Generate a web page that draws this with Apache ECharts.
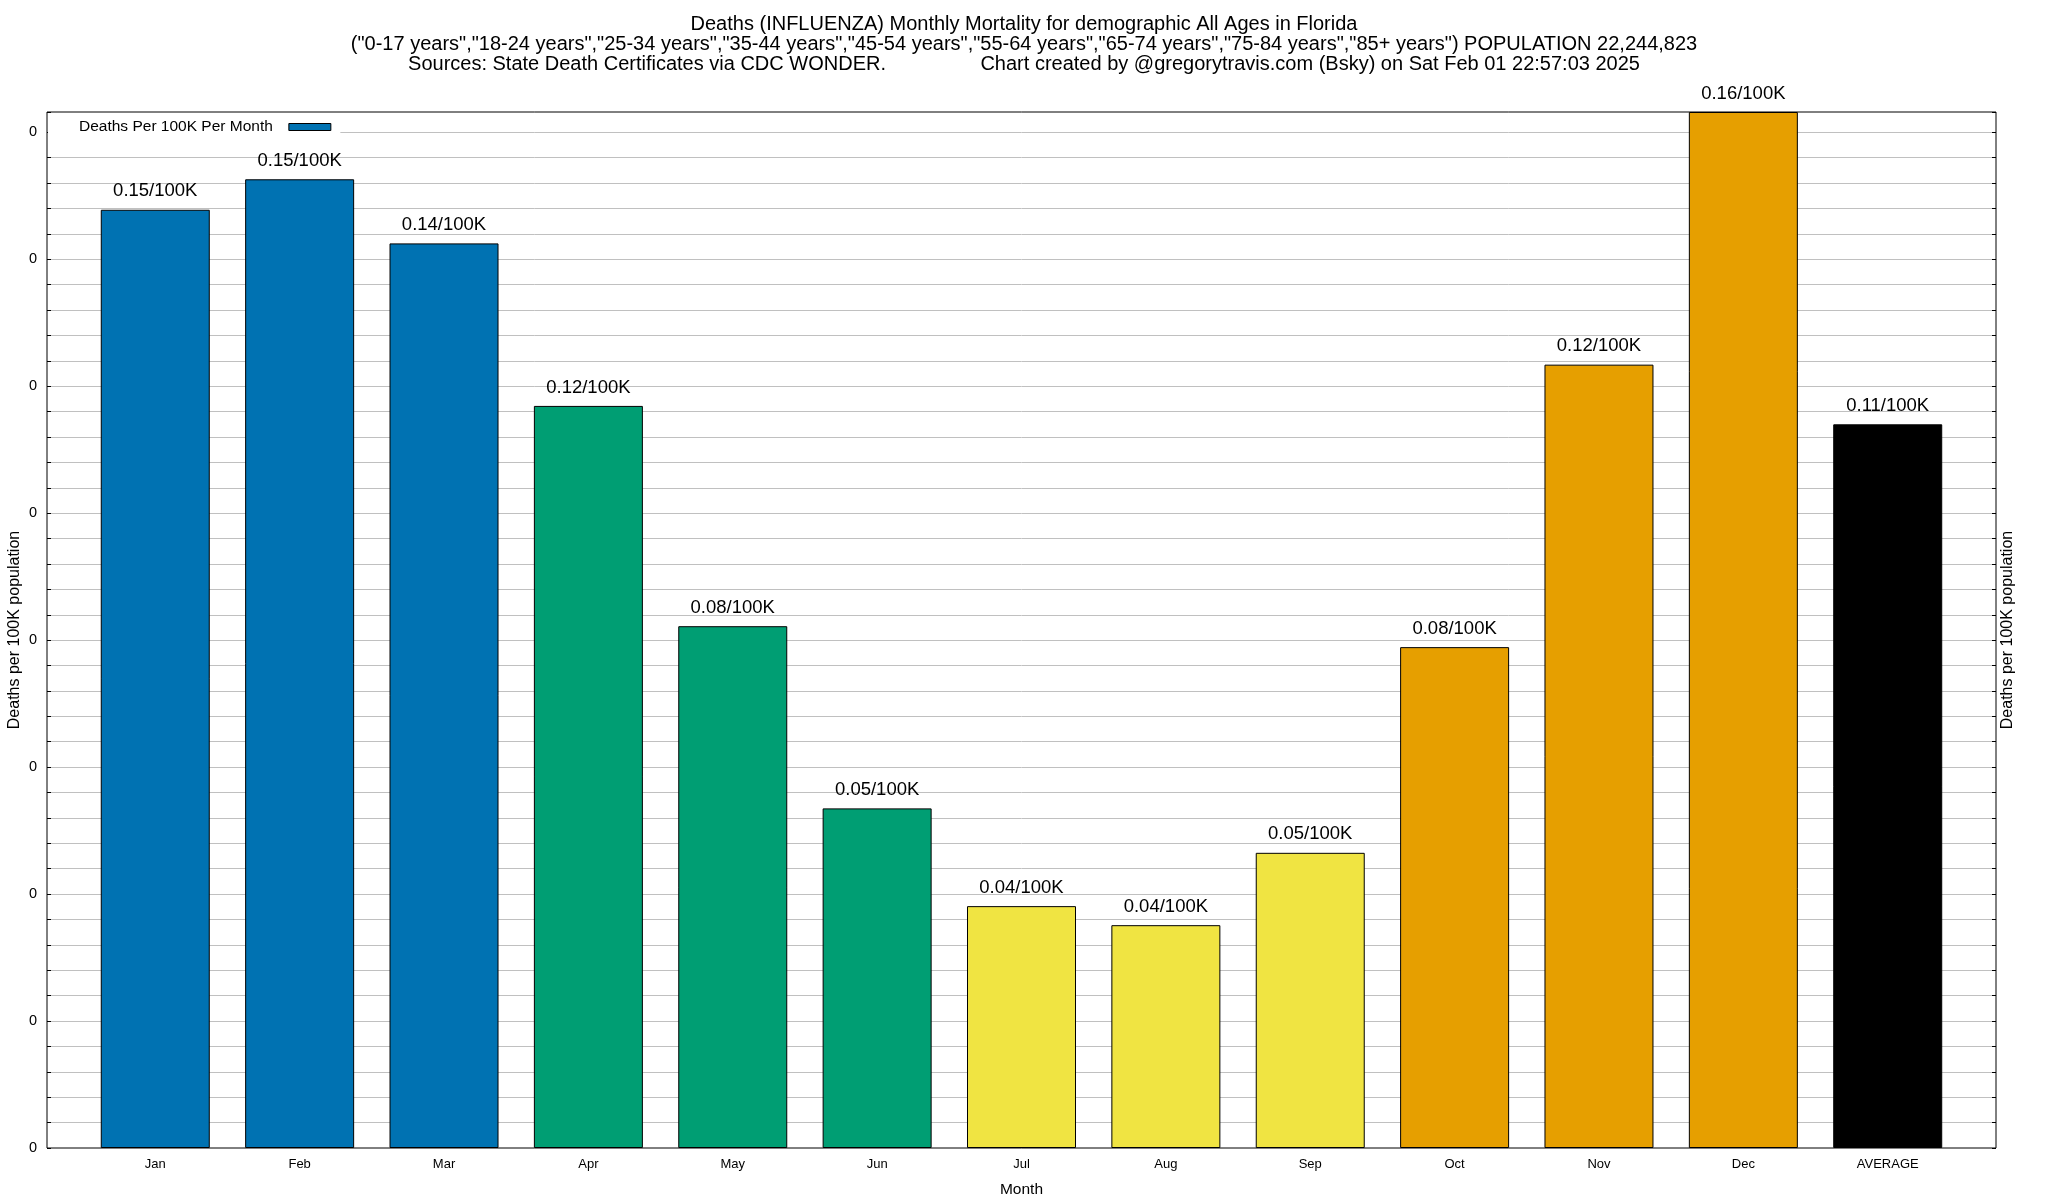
<!DOCTYPE html>
<html>
<head>
<meta charset="utf-8">
<script src="https://cdn.jsdelivr.net/npm/echarts@6/dist/echarts.min.js"></script>
<style>html,body{margin:0;padding:0;background:#fff}#c{width:2048px;height:1200px}</style>
</head>
<body>
<div id="c"></div>
<script>
const categories = ['Jan','Feb','Mar','Apr','May','Jun','Jul','Aug','Sep','Oct','Nov','Dec','AVERAGE'];
const deathsPer100K = [0.1478, 0.1526, 0.1425, 0.1169, 0.0822, 0.0535, 0.0381, 0.0351, 0.0465, 0.0789, 0.1234, 0.1632, 0.1140];
const yTickStep = 0.004;      // gridline step
const yMajorStep = 0.02;      // labelled tick step
const seriesName = 'Deaths Per 100K Per Month';
const barColors = ['#0072B2','#0072B2','#0072B2','#009E73','#009E73','#009E73','#F0E442','#F0E442','#F0E442','#E69F00','#E69F00','#E69F00','#000000'];

const titleText = 'Deaths (INFLUENZA) Monthly Mortality for demographic All Ages in Florida\n' +
  '("0-17 years","18-24 years","25-34 years","35-44 years","45-54 years","55-64 years","65-74 years","75-84 years","85+ years") POPULATION 22,244,823\n' +
  'Sources: State Death Certificates via CDC WONDER.' + ' '.repeat(17) + 'Chart created by @gregorytravis.com (Bsky) on Sat Feb 01 22:57:03 2025';

const yMax = Math.max.apply(null, deathsPer100K);
const FONT = 'Liberation Sans';

function yLabel(v) {
  const r = v / yMajorStep;
  return Math.abs(r - Math.round(r)) < 1e-6 ? '0' : '';
}

const chart = echarts.init(document.getElementById('c'), null, {renderer: 'canvas'});
chart.setOption({
  animation: false,
  backgroundColor: '#fff',
  textStyle: {fontFamily: FONT, color: '#000'},
  title: {
    text: titleText,
    left: 'center',
    top: 15,
    padding: 0,
    textStyle: {fontFamily: FONT, fontSize: 20, fontWeight: 'normal', color: '#000', lineHeight: 19.6, align: 'center'}
  },
  legend: {
    left: 48,
    top: 114,
    align: 'right',
    padding: [5, 9, 5, 31],
    backgroundColor: '#fff',
    icon: 'rect',
    itemWidth: 42,
    itemHeight: 7,
    itemStyle: {borderColor: '#000', borderWidth: 1},
    textStyle: {fontFamily: FONT, fontSize: 15.5, color: '#000', padding: [0, 11, 0, 0]},
    data: [seriesName]
  },
  grid: {
    left: 47, right: 52, top: 112, bottom: 52,
    outerBoundsMode: 'none',
    containLabel: false,
    show: true, borderColor: '#000', borderWidth: 1, backgroundColor: '#fff'
  },
  xAxis: {
    type: 'value',
    min: -0.75, max: 12.75, interval: 0.25,
    name: 'Month', nameLocation: 'middle', nameGap: 34, nameMoveOverlap: false,
    nameTextStyle: {fontFamily: FONT, fontSize: 15.5, color: '#000'},
    axisLine: {show: false, onZero: false},
    axisTick: {show: false},
    splitLine: {show: false},
    axisLabel: {
      fontFamily: FONT, fontSize: 13, color: '#000', margin: 10,
      formatter: function (v) {
        const i = Math.round(v);
        return (Math.abs(v - i) < 1e-6 && i >= 0 && i < categories.length) ? categories[i] : '';
      }
    }
  },
  yAxis: [{
    type: 'value',
    min: 0, max: yMax, interval: yTickStep,
    position: 'left',
    name: 'Deaths per 100K population', nameLocation: 'middle', nameGap: 24, nameRotate: 90, nameMoveOverlap: false,
    nameTextStyle: {fontFamily: FONT, fontSize: 16, color: '#000'},
    axisLine: {show: false, onZero: false},
    axisTick: {show: true, inside: true, length: 4, lineStyle: {color: '#000'}},
    splitLine: {show: true, showMinLine: false, showMaxLine: false, lineStyle: {color: '#c0c0c0', width: 1}},
    axisLabel: {fontFamily: FONT, fontSize: 14.5, color: '#000', margin: 10, formatter: yLabel}
  }, {
    type: 'value',
    min: 0, max: yMax, interval: yTickStep,
    position: 'right',
    name: 'Deaths per 100K population', nameLocation: 'middle', nameGap: 4, nameRotate: 90, nameMoveOverlap: false,
    nameTextStyle: {fontFamily: FONT, fontSize: 16, color: '#000'},
    axisLine: {show: false, onZero: false},
    axisTick: {show: true, inside: true, length: 4, lineStyle: {color: '#000'}},
    splitLine: {show: false},
    axisLabel: {show: false}
  }],
  series: [{
    name: seriesName,
    type: 'bar',
    barWidth: 109,
    itemStyle: {color: '#0072B2', borderColor: '#000', borderWidth: 1},
    label: {
      show: true, position: 'top', distance: 9,
      fontFamily: FONT, fontSize: 18.5, color: '#000',
      formatter: function (p) { return deathsPer100K[p.dataIndex].toFixed(2) + '/100K'; }
    },
    data: deathsPer100K.map(function (v, i) {
      return {value: [i, v], itemStyle: {color: barColors[i]}};
    })
  }]
});
</script>
</body>
</html>
